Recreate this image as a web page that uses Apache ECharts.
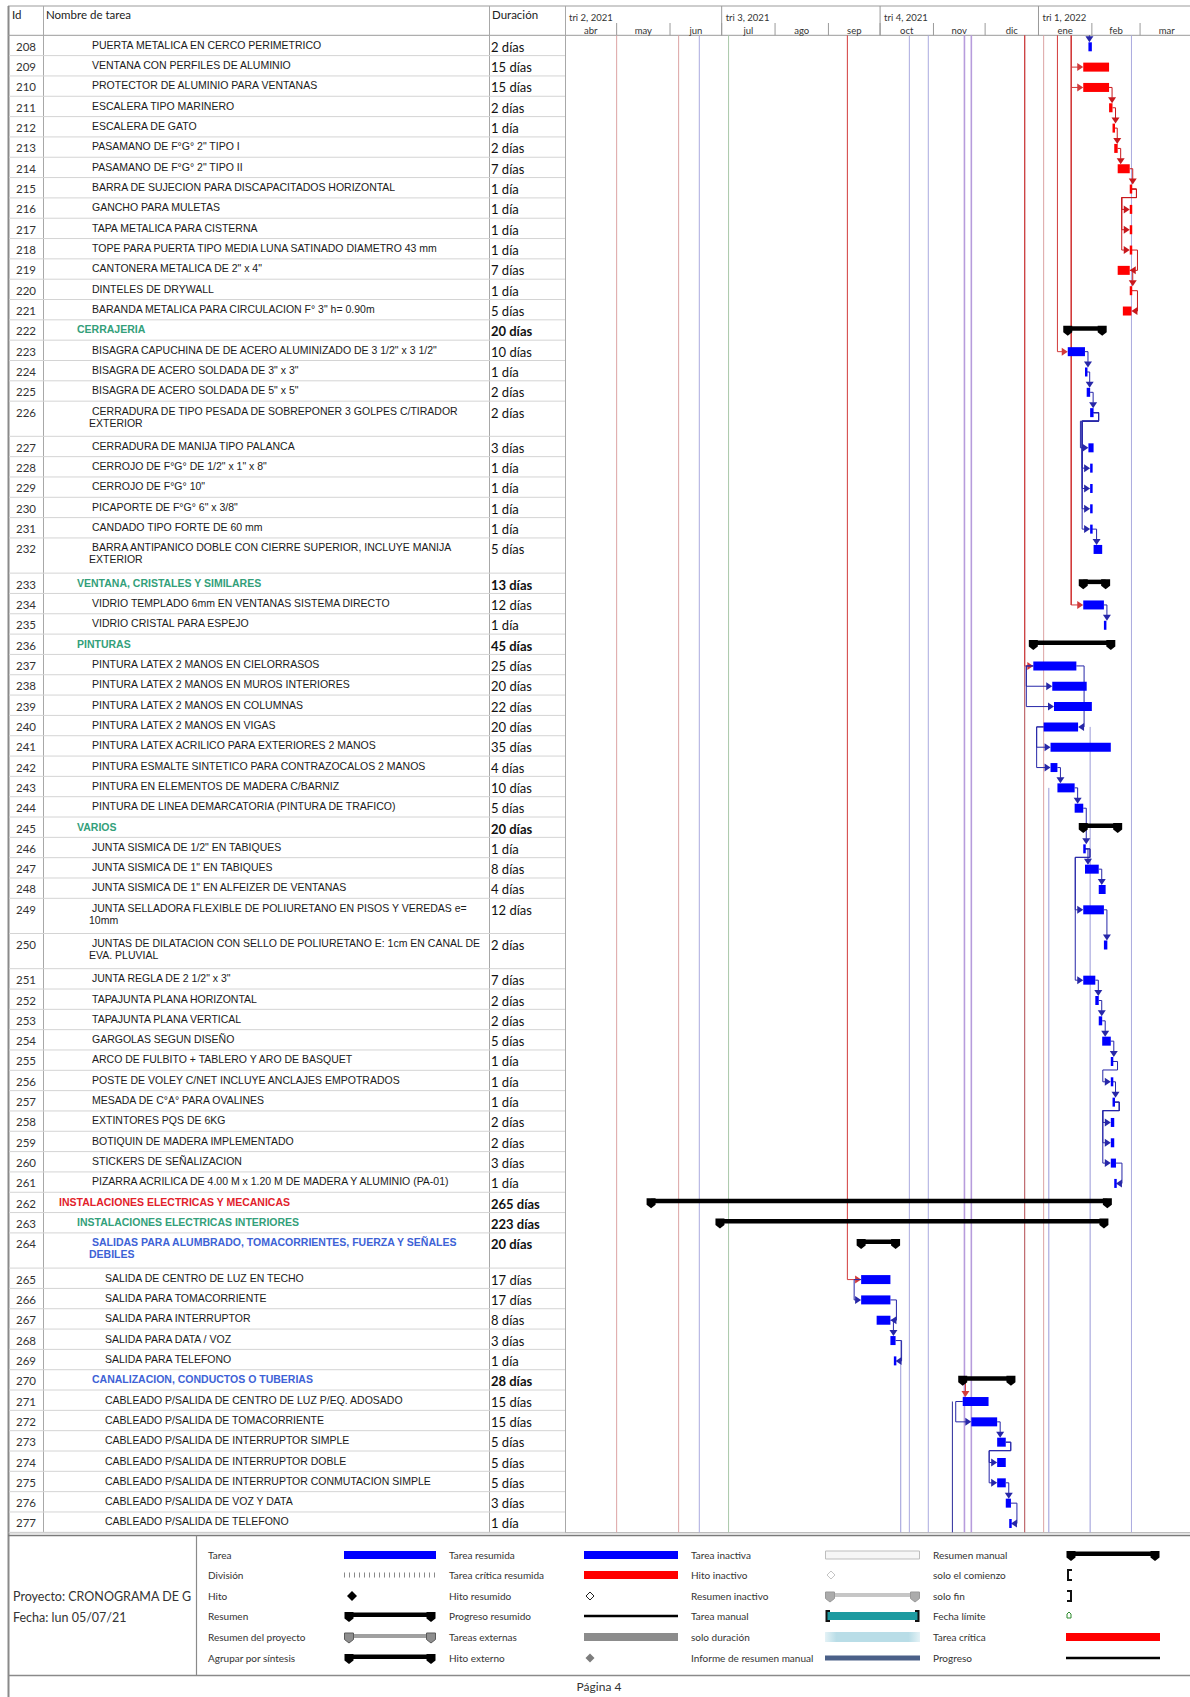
<!DOCTYPE html>
<html lang="es">
<head>
<meta charset="utf-8">
<title>CRONOGRAMA - Página 4</title>
<script src="https://cdn.jsdelivr.net/npm/echarts@6.0.0/dist/echarts.min.js"></script>
<style>
  html, body { margin: 0; padding: 0; background: #fff; }
  #gantt { width: 1190px; height: 1697px; }
</style>
</head>
<body>
<div id="gantt"></div>
<script>
// ---- tareas 208 a 277 ----
const taskIds = [
  208, 209, 210, 211, 212, 213, 214, 215, 216, 217,
  218, 219, 220, 221, 222, 223, 224, 225, 226, 227,
  228, 229, 230, 231, 232, 233, 234, 235, 236, 237,
  238, 239, 240, 241, 242, 243, 244, 245, 246, 247,
  248, 249, 250, 251, 252, 253, 254, 255, 256, 257,
  258, 259, 260, 261, 262, 263, 264, 265, 266, 267,
  268, 269, 270, 271, 272, 273, 274, 275, 276, 277
];
const taskNames = [
  'PUERTA METALICA EN CERCO PERIMETRICO',
  'VENTANA CON PERFILES DE ALUMINIO',
  'PROTECTOR DE ALUMINIO PARA VENTANAS',
  'ESCALERA TIPO MARINERO',
  'ESCALERA DE GATO',
  'PASAMANO DE F°G° 2" TIPO I',
  'PASAMANO DE F°G° 2" TIPO II',
  'BARRA DE SUJECION PARA DISCAPACITADOS HORIZONTAL',
  'GANCHO PARA MULETAS',
  'TAPA METALICA PARA CISTERNA',
  'TOPE PARA PUERTA TIPO MEDIA LUNA SATINADO DIAMETRO 43 mm',
  'CANTONERA METALICA DE 2" x 4"',
  'DINTELES DE DRYWALL',
  'BARANDA METALICA PARA CIRCULACION F° 3" h= 0.90m',
  'CERRAJERIA',
  'BISAGRA CAPUCHINA DE DE ACERO ALUMINIZADO DE 3 1/2" x 3 1/2"',
  'BISAGRA DE ACERO SOLDADA DE 3" x 3"',
  'BISAGRA DE ACERO SOLDADA DE 5" x 5"',
  'CERRADURA DE TIPO PESADA DE SOBREPONER 3 GOLPES C/TIRADOR\nEXTERIOR',
  'CERRADURA DE MANIJA TIPO PALANCA',
  'CERROJO DE F°G° DE 1/2" x 1" x 8"',
  'CERROJO DE F°G° 10"',
  'PICAPORTE DE F°G° 6" x 3/8"',
  'CANDADO TIPO FORTE DE 60 mm',
  'BARRA ANTIPANICO DOBLE CON CIERRE SUPERIOR, INCLUYE MANIJA\nEXTERIOR',
  'VENTANA, CRISTALES Y SIMILARES',
  'VIDRIO TEMPLADO 6mm EN VENTANAS SISTEMA DIRECTO',
  'VIDRIO CRISTAL PARA ESPEJO',
  'PINTURAS',
  'PINTURA LATEX 2 MANOS EN CIELORRASOS',
  'PINTURA LATEX 2 MANOS EN MUROS INTERIORES',
  'PINTURA LATEX 2 MANOS EN COLUMNAS',
  'PINTURA LATEX 2 MANOS EN VIGAS',
  'PINTURA LATEX ACRILICO PARA EXTERIORES 2 MANOS',
  'PINTURA ESMALTE SINTETICO PARA CONTRAZOCALOS 2 MANOS',
  'PINTURA EN ELEMENTOS DE MADERA C/BARNIZ',
  'PINTURA DE LINEA DEMARCATORIA (PINTURA DE TRAFICO)',
  'VARIOS',
  'JUNTA SISMICA DE 1/2" EN TABIQUES',
  'JUNTA SISMICA DE 1" EN TABIQUES',
  'JUNTA SISMICA DE 1" EN ALFEIZER DE VENTANAS',
  'JUNTA SELLADORA FLEXIBLE DE POLIURETANO EN PISOS Y VEREDAS e=\n10mm',
  'JUNTAS DE DILATACION CON SELLO DE POLIURETANO E: 1cm EN CANAL DE\nEVA. PLUVIAL',
  'JUNTA REGLA DE 2 1/2" x 3"',
  'TAPAJUNTA PLANA HORIZONTAL',
  'TAPAJUNTA PLANA VERTICAL',
  'GARGOLAS SEGUN DISEÑO',
  'ARCO DE FULBITO + TABLERO Y ARO DE BASQUET',
  'POSTE DE VOLEY C/NET INCLUYE ANCLAJES EMPOTRADOS',
  'MESADA DE C°A° PARA OVALINES',
  'EXTINTORES PQS DE 6KG',
  'BOTIQUIN DE MADERA IMPLEMENTADO',
  'STICKERS DE SEÑALIZACION',
  'PIZARRA ACRILICA DE 4.00 M x 1.20 M DE MADERA Y ALUMINIO (PA-01)',
  'INSTALACIONES ELECTRICAS Y MECANICAS',
  'INSTALACIONES ELECTRICAS INTERIORES',
  'SALIDAS PARA ALUMBRADO, TOMACORRIENTES, FUERZA Y SEÑALES\nDEBILES',
  'SALIDA DE CENTRO DE LUZ EN TECHO',
  'SALIDA PARA TOMACORRIENTE',
  'SALIDA PARA INTERRUPTOR',
  'SALIDA PARA DATA / VOZ',
  'SALIDA PARA TELEFONO',
  'CANALIZACION, CONDUCTOS O TUBERIAS',
  'CABLEADO P/SALIDA DE CENTRO DE LUZ P/EQ. ADOSADO',
  'CABLEADO P/SALIDA DE TOMACORRIENTE',
  'CABLEADO P/SALIDA DE INTERRUPTOR SIMPLE',
  'CABLEADO P/SALIDA DE INTERRUPTOR DOBLE',
  'CABLEADO P/SALIDA DE INTERRUPTOR CONMUTACION SIMPLE',
  'CABLEADO P/SALIDA DE VOZ Y DATA',
  'CABLEADO P/SALIDA DE TELEFONO'
];
// nivel de esquema
const taskLevels = [
  3, 3, 3, 3, 3, 3, 3, 3, 3, 3,
  3, 3, 3, 3, 2, 3, 3, 3, 3, 3,
  3, 3, 3, 3, 3, 2, 3, 3, 2, 3,
  3, 3, 3, 3, 3, 3, 3, 2, 3, 3,
  3, 3, 3, 3, 3, 3, 3, 3, 3, 3,
  3, 3, 3, 3, 1, 2, 3, 4, 4, 4,
  4, 4, 3, 4, 4, 4, 4, 4, 4, 4
];
// t = tarea, c = tarea critica, s = resumen
const taskKinds = [
  't', 'c', 'c', 'c', 'c', 'c', 'c', 'c', 'c', 'c',
  'c', 'c', 'c', 'c', 's', 't', 't', 't', 't', 't',
  't', 't', 't', 't', 't', 's', 't', 't', 's', 't',
  't', 't', 't', 't', 't', 't', 't', 's', 't', 't',
  't', 't', 't', 't', 't', 't', 't', 't', 't', 't',
  't', 't', 't', 't', 's', 's', 's', 't', 't', 't',
  't', 't', 's', 't', 't', 't', 't', 't', 't', 't'
];
// duracion en dias
const durations = [
  2, 15, 15, 2, 1, 2, 7, 1, 1, 1,
  1, 7, 1, 5, 20, 10, 1, 2, 2, 3,
  1, 1, 1, 1, 5, 13, 12, 1, 45, 25,
  20, 22, 20, 35, 4, 10, 5, 20, 1, 8,
  4, 12, 2, 7, 2, 2, 5, 1, 1, 1,
  2, 2, 3, 1, 265, 223, 20, 17, 17, 8,
  3, 1, 28, 15, 15, 5, 5, 5, 3, 1
];
const startDates = [
  '2022-01-30', '2022-01-27', '2022-01-27', '2022-02-11', '2022-02-13',
  '2022-02-14', '2022-02-16', '2022-02-23', '2022-02-23', '2022-02-23',
  '2022-02-23', '2022-02-16', '2022-02-23', '2022-02-19', '2022-01-18',
  '2022-01-18', '2022-01-28', '2022-01-29', '2022-01-31', '2022-01-30',
  '2022-01-31', '2022-01-31', '2022-01-31', '2022-01-31', '2022-02-02',
  '2022-01-27', '2022-01-27', '2022-02-08', '2021-12-29', '2021-12-29',
  '2022-01-09', '2022-01-10', '2022-01-04', '2022-01-08', '2022-01-08',
  '2022-01-12', '2022-01-22', '2022-01-27', '2022-01-27', '2022-01-28',
  '2022-02-05', '2022-01-27', '2022-02-08', '2022-01-27', '2022-02-03',
  '2022-02-05', '2022-02-07', '2022-02-12', '2022-02-12', '2022-02-13',
  '2022-02-12', '2022-02-12', '2022-02-12', '2022-02-14', '2021-05-21',
  '2021-06-30', '2021-09-20', '2021-09-20', '2021-09-20', '2021-09-29',
  '2021-10-07', '2021-10-09', '2021-11-18', '2021-11-18', '2021-11-23',
  '2021-12-08', '2021-12-08', '2021-12-08', '2021-12-13', '2021-12-15'
];
// predecesora dentro de la pagina y tipo de vinculo
const predIds = [
  null, null, null, 210, 211, 212, 213, 214, 215, 215,
  215, 218, 219, 220, null, null, 223, 224, 225, 226,
  226, 226, 226, 226, 231, null, null, 234, null, null,
  237, 237, 237, 240, 240, 242, 243, null, 244, 246,
  247, 246, 249, 246, 251, 252, 253, 254, 255, 256,
  257, 257, 257, 260, null, null, null, null, 265, 266,
  267, 268, null, null, 271, 272, 273, 273, 275, 276
];
const linkTypes = [
  null, null, null, 'FS', 'FS', 'FS', 'FS', 'FS', 'FS', 'FS',
  'FS', 'FF', 'FS', 'FF', null, null, 'FS', 'FS', 'FS', 'FS',
  'FS', 'FS', 'FS', 'FS', 'FS', null, null, 'FS', null, null,
  'SS', 'SS', 'FF', 'SS', 'SS', 'FS', 'FS', null, 'FS', 'FS',
  'FS', 'FS', 'FS', 'FS', 'FS', 'FS', 'FS', 'FS', 'FS', 'FS',
  'FS', 'FS', 'FS', 'FF', null, null, null, null, 'SS', 'FF',
  'FS', 'FF', null, null, 'SS', 'FS', 'FS', 'FS', 'FS', 'FF'
];

// vinculos que llegan desde la pagina anterior
const extDates = ['2022-01-30', '2022-01-20', '2022-01-12', '2021-12-24', '2021-09-12', '2021-11-19'];
const extTargets = [[208], [209, 210, 234], [223], [237], [265], [271]];
const extCritical = [false, true, true, true, true, true];
// vinculos que siguen en la pagina siguiente
const outDates = ['2021-10-13', '2021-11-12', '2022-01-07', '2022-01-31'];
const outFrom = [268, 271, 243, 240];
// lineas verticales de la escala temporal
const markerDates = ['2021-05-01', '2021-06-06', '2021-06-18', '2021-07-05', '2021-10-18',
  '2021-10-29', '2021-11-19', '2021-11-23', '2021-12-24', '2022-01-04', '2022-02-24'];
const markerKinds = ['rojo', 'rojo', 'azul', 'verde', 'azul', 'azul', 'morado', 'morado', 'rojoOsc', 'rojo', 'azul'];

// escala: trimestres y meses
const quarterStarts = ['2021-04-01', '2021-07-01', '2021-10-01', '2022-01-01'];
const quarterLabels = ['tri 2, 2021', 'tri 3, 2021', 'tri 4, 2021', 'tri 1, 2022'];
const monthStarts = ['2021-04-01', '2021-05-01', '2021-06-01', '2021-07-01', '2021-08-01', '2021-09-01',
  '2021-10-01', '2021-11-01', '2021-12-01', '2022-01-01', '2022-02-01', '2022-03-01', '2022-04-01'];
const monthLabels = ['abr', 'may', 'jun', 'jul', 'ago', 'sep', 'oct', 'nov', 'dic', 'ene', 'feb', 'mar'];
const axisStart = '2021-04-01';
const axisEnd = '2022-03-30';

// leyenda
const legendLabels = [
  ['Tarea', 'División', 'Hito', 'Resumen', 'Resumen del proyecto', 'Agrupar por síntesis'],
  ['Tarea resumida', 'Tarea crítica resumida', 'Hito resumido', 'Progreso resumido', 'Tareas externas', 'Hito externo'],
  ['Tarea inactiva', 'Hito inactivo', 'Resumen inactivo', 'Tarea manual', 'solo duración', 'Informe de resumen manual'],
  ['Resumen manual', 'solo el comienzo', 'solo fin', 'Fecha límite', 'Tarea crítica', 'Progreso']
];
const legendKeys = [
  ['tarea', 'division', 'hito', 'resumen', 'resumenProyecto', 'resumen'],
  ['tarea', 'critica', 'hitoHueco', 'progreso', 'externa', 'hitoExterno'],
  ['inactiva', 'hitoInactivo', 'resumenInactivo', 'manual', 'soloDuracion', 'informeManual'],
  ['resumen', 'comienzo', 'fin', 'fechaLimite', 'critica', 'progreso']
];

// ---- geometria y estilos ----
const DAY = 86400000;
const T = s => { const p = s.split('-').map(Number); return Date.UTC(p[0], p[1] - 1, p[2]); };
const BODY_TOP = 35.3, BODY_H = 1497, GANTT_L = 565, GANTT_W = 625, HEAD_TOP = 6;
const TALL = 1.731;
const rowUnits = taskNames.map(n => (n.indexOf('\n') >= 0 ? TALL : 1));
const rowTop = [];
let acc = 0;
rowUnits.forEach(u => { rowTop.push(acc); acc += u; });
const totalUnits = acc;
const idIndex = {};
taskIds.forEach((id, i) => { idIndex[id] = i; });

const C = {
  task: '#0000ff', crit: '#ff0000', linkBlue: '#2727a8', linkRed: '#c8181c', extRed: '#d23a3a',
  rojo: '#dca4a4', azul: '#aaaadf', verde: '#a9c8a9', morado: '#b79cdc', rojoOsc: '#b24a4e'
};
const levelX = { 1: 59, 2: 77, 3: 92, 4: 105 };
const levelColor = { 1: '#e2222b', 2: '#33a07a', 3: '#3d62d6' };
const NAME_FONT = '10.5px "Liberation Sans", Arial, sans-serif';

const taskEnd = i => T(startDates[i]) + durations[i] * DAY;

function line(x1, y1, x2, y2, stroke, w, dash) {
  return { type: 'line', silent: true, shape: { x1, y1, x2, y2 },
    style: { stroke, lineWidth: w || 1, lineDash: dash || null } };
}
function rect(x, y, w, h, fill, stroke) {
  return { type: 'rect', silent: true, shape: { x, y, width: w, height: h },
    style: { fill, stroke: stroke || null, lineWidth: 1 } };
}
function poly(points, fill, stroke) {
  return { type: 'polygon', silent: true, shape: { points }, style: { fill, stroke: stroke || null, lineWidth: 1 } };
}
function pline(points, stroke, w) {
  return { type: 'polyline', silent: true, shape: { points }, style: { stroke, fill: null, lineWidth: w || 1 } };
}
function text(str, x, y, font, fill, align) {
  return { type: 'text', silent: true,
    style: { text: str, x, y, font, fill: fill || '#222', align: align || 'left', verticalAlign: 'middle' } };
}
function cap(x, y, fill, stroke) {
  return poly([[x - 4.5, y - 0.5], [x + 4.5, y - 0.5], [x + 4.5, y + 6], [x, y + 9.5], [x - 4.5, y + 6]], fill, stroke);
}
const arrowDown = (x, yTip, c) => poly([[x - 4, yTip - 6], [x + 4, yTip - 6], [x, yTip]], c);
const arrowRight = (xTip, y, c) => poly([[xTip - 6, y - 4], [xTip - 6, y + 4], [xTip, y]], c);
const arrowLeft = (xTip, y, c) => poly([[xTip + 6, y - 4], [xTip + 6, y + 4], [xTip, y]], c);

// ---- render de series ----
function rowY(api, i) { return api.coord([T(axisStart), rowTop[i]])[1]; }
function xAt(api, ts) { return api.coord([ts, 0])[0]; }

function renderTable(params, api) {
  const i = params.dataIndex;
  const top = api.coord([0, rowTop[i]])[1];
  const bot = api.coord([0, rowTop[i] + rowUnits[i]])[1];
  const kids = [line(9, bot, GANTT_L, bot, '#d4d4d4', 1)];
  kids.push(text(String(taskIds[i]), 26, top + 11, '11.5px Lato, "Noto Sans", sans-serif', '#333', 'center'));
  const isSum = taskKinds[i] === 's';
  const lvl = taskLevels[i];
  taskNames[i].split('\n').forEach((p, k) => {
    kids.push(text(p, levelX[lvl] - (k ? 3 : 0), top + 9.5 + k * 12,
      (isSum ? 'bold ' : '') + NAME_FONT, isSum ? levelColor[lvl] : '#1a1a1a'));
  });
  const d = durations[i];
  kids.push(text(d === 1 ? '1 día' : d + ' días', 491, top + 11.5,
    (isSum ? 'bold ' : '') + '13px Lato, "Noto Sans", sans-serif', '#111'));
  return { type: 'group', children: kids };
}

function renderBar(params, api) {
  const i = api.value(2);
  const xs = xAt(api, api.value(0));
  const xe = xAt(api, taskEnd(i));
  const top = rowY(api, i);
  if (taskKinds[i] === 's') {
    const y = top + 6.5;
    return { type: 'group', children: [rect(xs, y, xe - xs, 4.5, '#000'), cap(xs, y, '#000'), cap(xe, y, '#000')] };
  }
  const yc = top + 11.5;
  return rect(xs, yc - 4.5, Math.max(xe - xs, 2.5), 9, taskKinds[i] === 'c' ? C.crit : C.task);
}

function renderLink(params, api) {
  const i = api.value(2);
  const p = idIndex[predIds[i]];
  const c = (taskKinds[i] === 'c' && taskKinds[p] === 'c') ? C.linkRed : C.linkBlue;
  const ps = xAt(api, T(startDates[p])), pe = xAt(api, taskEnd(p));
  const xs = xAt(api, T(startDates[i])), xe = xAt(api, taskEnd(i));
  const yp = rowY(api, p) + 11.5, ys = rowY(api, i) + 11.5;
  const kids = [];
  const type = linkTypes[i];
  if (type === 'FS' && T(startDates[i]) >= taskEnd(p)) {
    const vx = Math.max(xs, pe) + 3;
    kids.push(pline([[pe, yp], [vx, yp], [vx, ys - 10]], c));
    kids.push(arrowDown(vx, ys - 4.5, c));
  } else if (type === 'FS') {
    const yb = yp + 8.5, vx = xs - 8;
    kids.push(pline([[pe, yp], [pe + 5, yp], [pe + 5, yb], [vx, yb], [vx, ys], [xs - 5, ys]], c));
    kids.push(arrowRight(xs, ys, c));
  } else if (type === 'SS') {
    const vx = Math.min(ps, xs) - 7;
    kids.push(pline([[ps, yp], [vx, yp], [vx, ys], [xs - 5, ys]], c));
    kids.push(arrowRight(xs, ys, c));
  } else {
    const vx = Math.max(pe, xe) + 6;
    kids.push(pline([[pe, yp], [vx, yp], [vx, ys], [xe + 5, ys]], c));
    kids.push(arrowLeft(xe, ys, c));
  }
  return { type: 'group', children: kids };
}

function renderExt(params, api) {
  const k = params.dataIndex;
  const x = xAt(api, api.value(0));
  const y0 = api.coord([api.value(0), 0])[1];
  const c = extCritical[k] ? C.extRed : C.linkBlue;
  const kids = [];
  let yLast = y0;
  extTargets[k].forEach(id => {
    const i = idIndex[id];
    const xs = xAt(api, T(startDates[i]));
    const yc = rowY(api, i) + 11.5;
    if (x >= xs - 2) {
      // llega por arriba: solo el tramo final sobre la barra
      kids.push(line(x + 1, Math.max(y0, yc - 22), x + 1, yc - 10, c, 1));
      kids.push(arrowDown(x + 1, yc - 4.5, c));
    } else {
      yLast = Math.max(yLast, yc);
      kids.push(line(x, yc, xs - 5, yc, c, 1));
      kids.push(arrowRight(xs, yc, c));
    }
  });
  if (yLast > y0) kids.push(line(x, y0, x, yLast, c, k === 1 ? 1.6 : 1));
  return { type: 'group', children: kids };
}

function renderOut(params, api) {
  const k = params.dataIndex;
  const x = xAt(api, api.value(0));
  const y1 = rowY(api, idIndex[outFrom[k]]) + 11.5;
  const y2 = api.coord([api.value(0), totalUnits])[1];
  return line(x, y1, x, y2, k === 1 ? '#2b2b9a' : '#9a9ad8', 1);
}

function renderMarker(params, api) {
  const k = params.dataIndex;
  const x = xAt(api, api.value(0));
  const y1 = api.coord([api.value(0), 0])[1];
  const y2 = api.coord([api.value(0), totalUnits])[1];
  const kind = markerKinds[k];
  return line(x, y1, x, y2, C[kind], kind === 'morado' ? 1.6 : 1);
}

function renderQuarter(params, api) {
  const k = params.dataIndex;
  const x = xAt(api, api.value(0));
  const kids = [text(quarterLabels[k], x + 4, 17, '9.5px Lato, "Noto Sans", sans-serif', '#333')];
  if (k > 0) kids.push(line(x, HEAD_TOP, x, BODY_TOP, '#9a9a9a', 1));
  return { type: 'group', children: kids };
}

function renderMonth(params, api) {
  const k = params.dataIndex;
  const x0 = xAt(api, api.value(0));
  const x1 = xAt(api, T(monthStarts[k + 1]));
  const kids = [text(monthLabels[k], (x0 + x1) / 2, 30.5, '9.5px Lato, "Noto Sans", sans-serif', '#333', 'center')];
  if (k > 0) kids.push(line(x0, 23, x0, BODY_TOP, '#9a9a9a', 1));
  return { type: 'group', children: kids };
}

// ---- marco, encabezado, leyenda y pie ----
function legendSymbol(key, x0, x1, y) {
  const w = x1 - x0;
  switch (key) {
    case 'tarea': return [rect(x0, y - 4, w, 8, '#0000ff')];
    case 'critica': return [rect(x0, y - 4, w, 8, '#ff0000')];
    case 'externa': return [rect(x0, y - 4, w, 8, '#8c8c8c')];
    case 'division': return [line(x0, y, x1, y, '#8a8a8a', 5, [1, 4])];
    case 'hito': return [poly([[x0 + 8, y - 5], [x0 + 13, y], [x0 + 8, y + 5], [x0 + 3, y]], '#000')];
    case 'hitoHueco': return [poly([[x0 + 6, y - 4], [x0 + 10, y], [x0 + 6, y + 4], [x0 + 2, y]], '#fff', '#222')];
    case 'hitoInactivo': return [poly([[x0 + 6, y - 4], [x0 + 10, y], [x0 + 6, y + 4], [x0 + 2, y]], '#fff', '#c4c4c4')];
    case 'hitoExterno': return [poly([[x0 + 6, y - 4.5], [x0 + 10.5, y], [x0 + 6, y + 4.5], [x0 + 1.5, y]], '#7d7d7d')];
    case 'resumen': return [rect(x0 + 2, y - 3.5, w - 4, 4.5, '#000'), cap(x0 + 5, y - 3.5, '#000'), cap(x1 - 5, y - 3.5, '#000')];
    case 'resumenProyecto': return [rect(x0 + 2, y - 3, w - 4, 4, '#a0a0a0'),
      cap(x0 + 5, y - 3.5, '#8e8e8e', '#5a5a5a'), cap(x1 - 5, y - 3.5, '#8e8e8e', '#5a5a5a')];
    case 'resumenInactivo': return [rect(x0 + 2, y - 3, w - 4, 4, '#c6c6c6'),
      cap(x0 + 5, y - 3.5, '#ababab', '#999'), cap(x1 - 5, y - 3.5, '#ababab', '#999')];
    case 'progreso': return [line(x0, y, x1, y, '#000', 2.5)];
    case 'inactiva': return [rect(x0 + 0.5, y - 4, w - 1, 8, '#f6f6f6', '#bdbdbd')];
    case 'manual': return [rect(x0 + 2, y - 4, w - 4, 8, '#1d9aa0'),
      pline([[x0 + 5, y - 5], [x0 + 1.5, y - 5], [x0 + 1.5, y + 5], [x0 + 5, y + 5]], '#111', 2),
      pline([[x1 - 5, y - 5], [x1 - 1.5, y - 5], [x1 - 1.5, y + 5], [x1 - 5, y + 5]], '#111', 2)];
    case 'soloDuracion': return [{ type: 'rect', silent: true, shape: { x: x0, y: y - 5, width: w, height: 10 },
      style: { fill: { type: 'linear', x: 0, y: 0, x2: 1, y2: 0, colorStops: [
        { offset: 0, color: '#e4f2f6' }, { offset: 0.12, color: '#b9dde7' },
        { offset: 0.88, color: '#b9dde7' }, { offset: 1, color: '#e4f2f6' }] } } }];
    case 'informeManual': return [rect(x0, y - 2.5, w, 5, '#4b6088')];
    case 'comienzo': return [pline([[x0 + 6, y - 5], [x0 + 2, y - 5], [x0 + 2, y + 5], [x0 + 6, y + 5]], '#111', 2)];
    case 'fin': return [pline([[x0 + 1, y - 5], [x0 + 5, y - 5], [x0 + 5, y + 5], [x0 + 1, y + 5]], '#111', 2)];
    case 'fechaLimite': return [poly([[x0 + 1, y - 2], [x0 + 3, y - 4], [x0 + 5, y - 2], [x0 + 5, y + 2], [x0 + 1, y + 2]], '#fff', '#2d8a2d')];
  }
  return [];
}

function buildGraphic() {
  const g = [];
  const LEG_TOP = 1535.5, LEG_BOT = 1675.5, TABLE_BOT = BODY_TOP + BODY_H;
  // marco
  g.push(line(8, HEAD_TOP, 1190, HEAD_TOP, '#9c9c9c', 1.2));
  g.push(line(8.5, HEAD_TOP, 8.5, 1697, '#8a8a8a', 2));
  g.push(line(8, BODY_TOP, 1190, BODY_TOP, '#9a9a9a', 1));
  [43, 489, GANTT_L].forEach(x => g.push(line(x + 0.5, HEAD_TOP, x + 0.5, TABLE_BOT, '#a8a8a8', 1)));
  g.push(line(8, TABLE_BOT + 0.5, 1190, TABLE_BOT + 0.5, '#a0a0a0', 1));
  g.push(line(8, LEG_TOP, 1190, LEG_TOP, '#7a7a7a', 1.5));
  g.push(line(196.5, LEG_TOP, 196.5, LEG_BOT, '#8a8a8a', 1.2));
  g.push(line(8, LEG_BOT, 1190, LEG_BOT, '#8a8a8a', 1.5));
  // encabezado de la tabla
  const hf = '11.5px Lato, "Noto Sans", sans-serif';
  g.push(text('Id', 12, 14, hf, '#222'));
  g.push(text('Nombre de tarea', 46, 14, hf, '#222'));
  g.push(text('Duración', 492, 14, hf, '#222'));
  // datos del proyecto
  const pf = '12.5px Lato, "Noto Sans", sans-serif';
  g.push(text('Proyecto: CRONOGRAMA DE G', 13, 1596, pf, '#333'));
  g.push(text('Fecha: lun 05/07/21', 13, 1617, pf, '#333'));
  // leyenda
  const labelX = [208, 449, 691, 933];
  const symX = [[344, 436], [584, 678], [825, 920], [1066, 1160]];
  const rowYs = [1555, 1575, 1596, 1616, 1637, 1658];
  const lf = '10px Lato, "Noto Sans", sans-serif';
  legendLabels.forEach((col, c) => {
    col.forEach((lab, r) => {
      g.push(text(lab, labelX[c], rowYs[r], lf, '#333'));
      legendSymbol(legendKeys[c][r], symX[c][0], symX[c][1], rowYs[r]).forEach(e => g.push(e));
    });
  });
  // pie
  g.push(text('Página 4', 599, 1686, '12px Lato, "Noto Sans", sans-serif', '#333', 'center'));
  return g;
}

const chart = echarts.init(document.getElementById('gantt'), null, { renderer: 'svg' });

const rowIdx = taskIds.map((id, i) => i);
const option = {
  animation: false,
  backgroundColor: '#ffffff',
  grid: [
    { left: 0, top: BODY_TOP, width: GANTT_L, height: BODY_H, containLabel: false, outerBoundsMode: 'none' },
    { left: GANTT_L, top: BODY_TOP, width: GANTT_W, height: BODY_H, containLabel: false, outerBoundsMode: 'none' },
    { left: GANTT_L, top: HEAD_TOP, width: GANTT_W, height: BODY_TOP - HEAD_TOP, containLabel: false, outerBoundsMode: 'none' }
  ],
  xAxis: [
    { gridIndex: 0, type: 'value', min: 0, max: GANTT_L, show: false },
    { gridIndex: 1, type: 'time', min: T(axisStart), max: T(axisEnd), show: false },
    { gridIndex: 2, type: 'time', min: T(axisStart), max: T(axisEnd), show: false }
  ],
  yAxis: [
    { gridIndex: 0, type: 'value', min: 0, max: totalUnits, inverse: true, show: false },
    { gridIndex: 1, type: 'value', min: 0, max: totalUnits, inverse: true, show: false },
    { gridIndex: 2, type: 'value', min: 0, max: 1, show: false }
  ],
  series: [
    { type: 'custom', name: 'lineas', xAxisIndex: 1, yAxisIndex: 1, clip: false, silent: true,
      renderItem: renderMarker, data: markerDates.map(d => [T(d), 0]) },
    { type: 'custom', name: 'salientes', xAxisIndex: 1, yAxisIndex: 1, clip: false, silent: true,
      renderItem: renderOut, data: outDates.map(d => [T(d), 0]) },
    { type: 'custom', name: 'entrantes', xAxisIndex: 1, yAxisIndex: 1, clip: false, silent: true,
      renderItem: renderExt, data: extDates.map(d => [T(d), 0]) },
    { type: 'custom', name: 'vinculos', xAxisIndex: 1, yAxisIndex: 1, clip: false, silent: true,
      renderItem: renderLink,
      data: rowIdx.filter(i => predIds[i] !== null).map(i => [T(startDates[i]), rowTop[i], i]) },
    { type: 'custom', name: 'barras', xAxisIndex: 1, yAxisIndex: 1, clip: false, silent: true,
      renderItem: renderBar, data: rowIdx.map(i => [T(startDates[i]), rowTop[i], i]) },
    { type: 'custom', name: 'trimestres', xAxisIndex: 2, yAxisIndex: 2, clip: false, silent: true,
      renderItem: renderQuarter, data: quarterStarts.map(d => [T(d), 0]) },
    { type: 'custom', name: 'meses', xAxisIndex: 2, yAxisIndex: 2, clip: false, silent: true,
      renderItem: renderMonth, data: monthLabels.map((m, k) => [T(monthStarts[k]), 0]) },
    { type: 'custom', name: 'tabla', xAxisIndex: 0, yAxisIndex: 0, clip: false, silent: true,
      renderItem: renderTable, data: rowIdx.map(i => [0, rowTop[i], i]) }
  ],
  graphic: { elements: buildGraphic() }
};
chart.setOption(option);
</script>
</body>
</html>
